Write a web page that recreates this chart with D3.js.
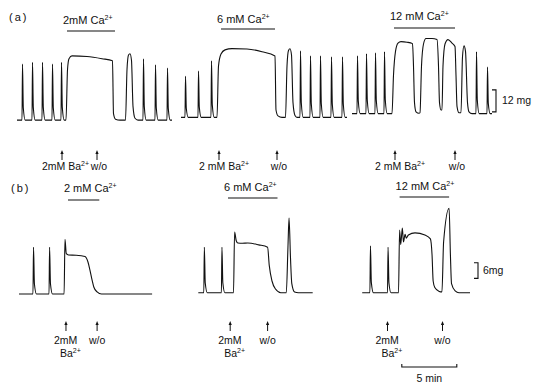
<!DOCTYPE html>
<html>
<head>
<meta charset="utf-8">
<script src="https://cdn.jsdelivr.net/npm/d3@7"></script>
<style>
  body { margin: 0; background: #fff; }
  svg text { font-family: "Liberation Sans", Arial, sans-serif; fill: #111; }
</style>
</head>
<body>
<div id="chart"></div>
<script>
// ---- panel (a): time in min, tension in mg ----
const aSegments = [
  { from: 0, to: 15.5, base: 0.5 },
  { from: 16.4, to: 33.0, base: 2 },
  { from: 33.5, to: 47.5, base: 4 }
];
const aTwitchTimes = [0.5, 1.5, 2.5, 3.5, 4.4, 12.6, 13.8, 15.0, 16.8, 18.1, 19.4,
  28.3, 29.3, 30.3, 31.4, 32.5, 34.0, 34.9, 35.8, 36.7, 45.9, 47.0];
const aTwitchPeaks = [31, 32, 32, 31, 32, 33.9, 30.6, 28.9, 24.4, 27.2, 32.8,
  38.3, 35.5, 35.5, 35, 35, 35.5, 36.7, 37.2, 37.8, 37.8, 29.4];
// Ba2+ contractures and wash-out rebounds
const aResponses = [
  [[4.9, 0.5], [5.05, 28], [5.2, 34], [5.5, 35.5], [7, 35.2], [8.5, 34], [9.55, 32.8], [9.65, 4], [9.85, 1], [10.3, 0.5]],
  [[10.85, 0.5], [11.0, 28], [11.15, 36], [11.3, 36.7], [11.45, 33], [11.6, 8], [11.8, 1.5], [12.1, 0.5]],
  [[20.0, 2], [20.15, 30], [20.4, 36.5], [20.8, 38.8], [21.5, 39.5], [23, 39.3], [24.5, 37.8], [25.8, 35.5], [25.9, 6], [26.1, 2.8], [26.5, 2]],
  [[26.85, 2], [27.0, 30], [27.15, 38.5], [27.3, 39.4], [27.45, 36], [27.6, 10], [27.8, 3], [28.0, 2]],
  [[37.5, 4], [37.65, 25], [37.85, 38], [38.1, 42.5], [38.4, 43.3], [39.0, 43], [39.55, 42.2], [39.65, 30], [39.75, 10], [39.9, 5], [40.2, 4.2]],
  [[40.3, 4.5], [40.45, 30], [40.65, 42], [40.9, 45], [41.5, 45], [42.0, 44.4], [42.15, 30], [42.25, 10], [42.4, 6]],
  [[42.5, 6], [42.6, 30], [42.8, 42], [43.1, 44.4], [43.5, 42.5], [43.8, 40.6], [43.9, 25], [44.0, 8], [44.2, 4.5]],
  [[44.4, 4.5], [44.55, 35], [44.7, 41], [44.85, 38], [45.05, 10], [45.2, 5], [45.5, 4]]
];
const aBaTimes = [4.5, 20.2, 37.8];
const aWashTimes = [8.0, 26.0, 43.8];
const aCaLabels = ['2mM Ca', '6 mM Ca', '12 mM Ca'];
const aCaBars = [[5.0, 9.8], [20.4, 25.8], [37.7, 43.8]];
const aBaLabels = ['2mM Ba', '2 mM Ba', '2 mM Ba'];

// ---- panel (b) ----
const bSegments = [
  { from: 0, to: 12.1, base: 0 },
  { from: 16.3, to: 26.7, base: 0.5 },
  { from: 31.2, to: 41.0, base: 0.5 }
];
const bTwitchTimes = [1.27, 2.73, 16.8, 18.4, 31.9, 33.5];
const bTwitchPeaks = [18, 18, 18, 18, 18.5, 18];
const bResponses = [
  [[4.1, 0], [4.18, 21], [4.3, 15.5], [4.5, 15], [5.2, 14.9], [6.0, 14.4], [6.27, 12.3], [6.45, 9.2], [6.64, 5.4], [6.8, 2.7], [7.1, 0.8], [7.5, 0]],
  [[19.5, 0.5], [19.6, 23.8], [19.75, 20.5], [19.9, 19.6], [20.3, 19.5], [20.8, 19.6], [21.8, 18.9], [22.6, 18], [22.75, 11], [23.0, 5], [23.3, 2], [23.8, 0.5]],
  [[24.3, 0.5], [24.45, 18], [24.55, 29.2], [24.68, 14], [24.8, 4], [25.05, 0.8], [25.4, 0.5]],
  [[34.5, 0.5], [34.6, 24.6], [34.7, 19], [34.85, 25.4], [34.95, 20], [35.1, 23], [35.2, 21.5], [35.4, 22.7], [36.0, 23.5], [36.9, 22.7], [37.4, 21.2], [37.55, 15], [37.65, 5], [37.8, 2.5], [38.2, 1]],
  [[38.45, 0.8], [38.6, 20], [39.1, 33], [39.22, 15], [39.32, 4], [39.65, 1.2], [40.0, 0.5]]
];
const bBaTimes = [4.27, 19.2, 33.5];
const bWashTimes = [7.1, 22.6, 38.5];
const bCaLabels = ['2 mM Ca', '6 mM Ca', '12 mM Ca'];
const bCaBars = [[4.45, 7.3], [19.0, 23.5], [34.6, 39.1]];
const timeBar = [34.8, 39.8]; // 5 min

// twitch waveform: [dt (min), fraction of peak]
const twitchShape = [[0, 0], [0.05, 1], [0.13, 0.22], [0.32, 0]];

const width = 541, height = 385;
const svg = d3.select('#chart').append('svg')
  .attr('width', width).attr('height', height);

const xA = d3.scaleLinear().domain([0, 48]).range([17, 497]);
const yA = d3.scaleLinear().domain([0, 12]).range([121, 99]);
const xB = d3.scaleLinear().domain([0, 41]).range([19, 470]);
const yB = d3.scaleLinear().domain([0, 6]).range([294, 278.4]);

function drawTrace(x, y, segments, tT, tP, responses) {
  const line = d3.line().x(d => x(d[0])).y(d => y(d[1])).curve(d3.curveMonotoneX);
  segments.forEach(seg => {
    const events = [];
    tT.forEach((t, i) => {
      if (t >= seg.from && t <= seg.to) {
        events.push(twitchShape.map(([dt, f]) => [t + dt, seg.base + f * (tP[i] - seg.base)]));
      }
    });
    responses.forEach(r => {
      if (r[0][0] >= seg.from && r[0][0] <= seg.to) events.push(r);
    });
    events.sort((a, b) => a[0][0] - b[0][0]);
    const pts = [[seg.from, seg.base]].concat(...events, [[seg.to, seg.base]]);
    svg.append('path').datum(pts)
      .attr('d', line)
      .attr('fill', 'none')
      .attr('stroke', '#111')
      .attr('stroke-width', 1.1)
      .attr('stroke-linejoin', 'round');
  });
}

drawTrace(xA, yA, aSegments, aTwitchTimes, aTwitchPeaks, aResponses);
drawTrace(xB, yB, bSegments, bTwitchTimes, bTwitchPeaks, bResponses);

// text with a "2+" superscript
function ionText(px, py, main, size) {
  const t = svg.append('text').attr('x', px).attr('y', py).attr('font-size', size || 11);
  t.append('tspan').text(main);
  t.append('tspan').attr('dy', -4.5).attr('font-size', 7).text('2+');
  return t;
}

function arrow(px, y0, y1) {
  svg.append('line').attr('x1', px).attr('x2', px).attr('y1', y0 + 2).attr('y2', y1)
    .attr('stroke', '#111').attr('stroke-width', 1);
  svg.append('path')
    .attr('d', `M${px},${y0 - 1}L${px - 1.6},${y0 + 3}L${px + 1.6},${y0 + 3}Z`)
    .attr('fill', '#111');
}

function caBar(x, range, yPos, label, textY) {
  svg.append('line')
    .attr('x1', x(range[0])).attr('x2', x(range[1]))
    .attr('y1', yPos).attr('y2', yPos)
    .attr('stroke', '#111').attr('stroke-width', 1.2);
  ionText(x(range[0]) - 4, textY, label);
}

// panel labels
svg.append('text').attr('x', 9).attr('y', 21).attr('font-size', 11)
  .attr('letter-spacing', 2).text('(a)');
svg.append('text').attr('x', 11).attr('y', 192).attr('font-size', 11)
  .attr('letter-spacing', 2).text('(b)');

// (a) Ca2+ periods
const aTextY = [24, 23, 20];
const aBarY = [31, 29, 28];
aCaBars.forEach((r, i) => caBar(xA, r, aBarY[i], aCaLabels[i], aTextY[i]));

// (a) Ba2+ / wash-out arrows and labels
aBaTimes.forEach((t, i) => {
  const wx = xA(aWashTimes[i]);
  arrow(xA(t), 151, 160);
  arrow(wx, 151, 160);
  ionText(xA(t) - 20, 170, aBaLabels[i], 10.5);
  svg.append('text').attr('x', wx + 2).attr('y', 170).attr('font-size', 10.5)
    .attr('text-anchor', 'middle').text('w/o');
});

// (b) Ca2+ periods
const bTextY = [192, 191, 190];
const bBarY = [200, 198, 197];
bCaBars.forEach((r, i) => caBar(xB, r, bBarY[i], bCaLabels[i], bTextY[i]));

// (b) Ba2+ / wash-out arrows and labels
bBaTimes.forEach((t, i) => {
  const bx = xB(t), wx = xB(bWashTimes[i]);
  arrow(bx, 322, 331);
  arrow(wx, 322, 331);
  svg.append('text').attr('x', bx - 12).attr('y', 344).attr('font-size', 10.5).text('2mM');
  svg.append('text').attr('x', wx).attr('y', 344).attr('font-size', 10.5)
    .attr('text-anchor', 'middle').text('w/o');
  ionText(bx - 6, 357, 'Ba', 10.5);
});

// scale bars
function bracket(px, yTop, yBot) {
  svg.append('path')
    .attr('d', `M${px - 4},${yTop}H${px}V${yBot}H${px - 4}`)
    .attr('fill', 'none').attr('stroke', '#111').attr('stroke-width', 1.1);
}
bracket(496, yA(17), yA(5));
svg.append('text').attr('x', 502).attr('y', 104).attr('font-size', 10.5).text('12 mg');
bracket(478, yB(12), yB(6));
svg.append('text').attr('x', 483).attr('y', 274).attr('font-size', 10.5).text('6mg');

svg.append('path')
  .attr('d', `M${xB(timeBar[0])},${364}V${367}H${xB(timeBar[1])}V${364}`)
  .attr('fill', 'none').attr('stroke', '#111').attr('stroke-width', 1.1);
svg.append('text').attr('x', (xB(timeBar[0]) + xB(timeBar[1])) / 2).attr('y', 382)
  .attr('text-anchor', 'middle').attr('font-size', 10.5).text('5 min');
</script>
</body>
</html>
